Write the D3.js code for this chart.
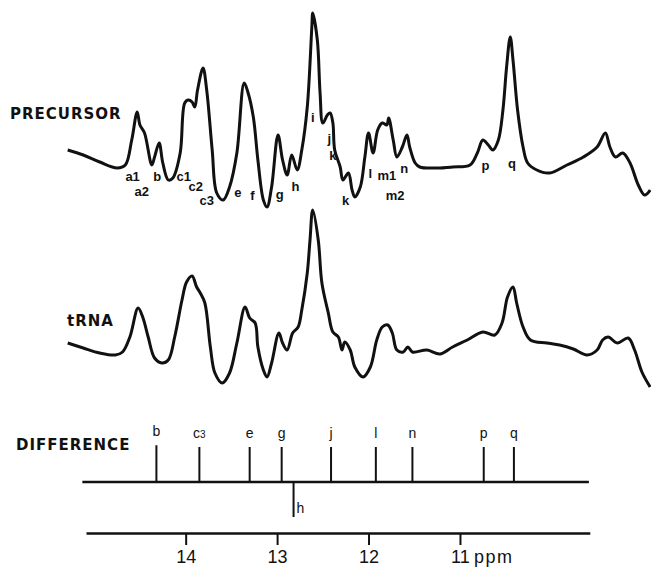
<!DOCTYPE html>
<html>
<head>
  <script src="https://cdn.jsdelivr.net/npm/d3@7"></script>
  <style>
    body { margin: 0; background: #fff; }
    text { fill: #111; }
  </style>
</head>
<body>
<script>
  // precursor spectrum: ppm and intensity (arbitrary units)
  var prePpm = [15.29, 15.12, 14.94, 14.75, 14.66, 14.59, 14.53, 14.50, 14.45, 14.37, 14.34, 14.29, 14.25, 14.19, 14.14, 14.06,
    14.01, 13.97, 13.93, 13.90, 13.87, 13.81, 13.77, 13.71, 13.66, 13.59, 13.52, 13.44, 13.36, 13.32, 13.26, 13.21,
    13.15, 13.11, 13.06, 12.99, 12.94, 12.89, 12.84, 12.78, 12.73, 12.67, 12.62, 12.61, 12.56, 12.53, 12.50, 12.45,
    12.42, 12.39, 12.37, 12.31, 12.28, 12.22, 12.18, 12.15, 12.09, 12.04, 12.00, 11.95, 11.90, 11.85, 11.80, 11.78,
    11.73, 11.69, 11.63, 11.58, 11.55, 11.49, 11.44, 11.25, 11.08, 10.89, 10.81, 10.75, 10.69, 10.64, 10.58, 10.53,
    10.49, 10.45, 10.42, 10.37, 10.31, 10.26, 10.16, 10.02, 9.83, 9.65, 9.50, 9.41, 9.36, 9.30, 9.22, 9.14, 9.05, 8.98, 8.92];
  var preInt = [60, 55, 48, 42, 45, 70, 98, 85, 77, 45, 53, 67, 47, 30, 32, 57,
    107, 110, 108, 103, 120, 142, 120, 60, 17, 10, 23, 57, 127, 118, 93, 50,
    10, 3, 23, 75, 50, 35, 55, 40, 60, 103, 183, 197, 170, 117, 87, 95,
    97, 87, 60, 43, 30, 37, 20, 13, 23, 53, 77, 57, 80, 87, 85, 92,
    70, 53, 63, 75, 63, 47, 43, 42, 43, 45, 57, 70, 65, 60, 70, 100,
    143, 173, 150, 100, 63, 47, 40, 37, 45, 53, 63, 77, 63, 53, 57, 47, 25, 15, 20];

  // tRNA spectrum
  var trnaPpm = [15.29, 15.12, 14.94, 14.77, 14.69, 14.61, 14.52, 14.47, 14.41, 14.34, 14.26, 14.19, 14.12, 14.04, 13.99, 13.93,
    13.88, 13.84, 13.79, 13.73, 13.68, 13.60, 13.52, 13.44, 13.35, 13.30, 13.24, 13.21, 13.15, 13.11, 13.06, 12.98,
    12.94, 12.89, 12.83, 12.77, 12.73, 12.67, 12.64, 12.61, 12.55, 12.51, 12.44, 12.39, 12.33, 12.29, 12.26, 12.20,
    12.15, 12.06, 11.98, 11.91, 11.85, 11.79, 11.74, 11.69, 11.62, 11.57, 11.52, 11.36, 11.22, 11.08, 10.92, 10.75,
    10.62, 10.54, 10.48, 10.42, 10.38, 10.31, 10.23, 10.05, 9.91, 9.76, 9.61, 9.50, 9.44, 9.38, 9.28, 9.16, 9.09, 9.01, 8.92];
  var trnaInt = [47, 42, 37, 35, 38, 53, 82, 73, 53, 32, 27, 30, 53, 90, 108, 114,
    103, 97, 87, 43, 17, 7, 17, 47, 83, 72, 67, 43, 20, 13, 27, 57,
    47, 40, 57, 63, 80, 117, 150, 180, 150, 107, 77, 58, 53, 40, 48, 40,
    23, 13, 23, 50, 63, 65, 57, 40, 38, 43, 38, 40, 36, 43, 50, 58,
    55, 67, 93, 103, 87, 63, 50, 47, 45, 41, 35, 40, 50, 53, 47, 52, 40, 18, 3];

  // peak labels on the precursor trace
  var preLabels = ["a1", "a2", "b", "c1", "c2", "c3", "e", "f", "g", "h", "i", "j", "k", "k", "l", "m1", "n", "m2", "p", "q"];
  var preLabelPpm = [14.58, 14.48, 14.31, 14.02, 13.89, 13.77, 13.43, 13.27, 12.97, 12.80, 12.61, 12.43, 12.39, 12.25, 11.98, 11.80, 11.61, 11.71, 10.72, 10.43];
  var preLabelInt = [29, 14, 29, 29, 19, 5, 13, 10, 11, 19, 88, 67, 50, 5, 32, 30, 37, 10, 40, 42];

  // difference spectrum sticks
  var diffLabels = ["b", "c3", "e", "g", "h", "j", "l", "n", "p", "q"];
  var diffPpm = [14.32, 13.85, 13.30, 12.95, 12.82, 12.41, 11.92, 11.52, 10.74, 10.41];
  var diffInt = [1.05, 1, 1, 1, -1, 1, 1, 1, 1, 1];

  var ppmTicks = [14, 13, 12, 11];

  var width = 651, height = 567;
  var svg = d3.select("body").append("svg")
    .attr("width", width)
    .attr("height", height);

  var x = d3.scaleLinear().domain([15.09, 9.58]).range([86, 589.8]);
  var yPre = d3.scaleLinear().domain([0, 200]).range([210, 10]);
  var yTrna = d3.scaleLinear().domain([0, 200]).range([390, 190]);
  var yDiff = d3.scaleLinear().domain([0, 1]).range([482, 447]);

  var line = function (yScale) {
    return d3.line()
      .x(function (d) { return x(d[0]); })
      .y(function (d) { return yScale(d[1]); })
      .curve(d3.curveCatmullRom.alpha(0.5));
  };

  // spectra
  svg.append("path")
    .datum(d3.zip(prePpm, preInt))
    .attr("d", line(yPre))
    .attr("fill", "none")
    .attr("stroke", "#111")
    .attr("stroke-width", 3)
    .attr("stroke-linejoin", "round");

  svg.append("path")
    .datum(d3.zip(trnaPpm, trnaInt))
    .attr("d", line(yTrna))
    .attr("fill", "none")
    .attr("stroke", "#111")
    .attr("stroke-width", 3)
    .attr("stroke-linejoin", "round");

  // names on the left
  var bigFont = "'DejaVu Sans', sans-serif";
  svg.append("text").attr("x", 10).attr("y", 119)
    .style("font-family", bigFont).style("font-weight", "bold")
    .style("font-size", "15px").style("letter-spacing", "1px")
    .text("PRECURSOR");
  svg.append("text").attr("x", 67).attr("y", 326)
    .style("font-family", bigFont).style("font-weight", "bold")
    .style("font-size", "15px").style("letter-spacing", "1px")
    .text("tRNA");
  svg.append("text").attr("x", 16).attr("y", 450)
    .style("font-family", bigFont).style("font-weight", "bold")
    .style("font-size", "15px").style("letter-spacing", "1px")
    .text("DIFFERENCE");

  // precursor peak labels
  svg.selectAll(".pre-label")
    .data(d3.zip(preLabels, preLabelPpm, preLabelInt))
    .enter().append("text")
    .attr("class", "pre-label")
    .attr("x", function (d) { return x(d[1]); })
    .attr("y", function (d) { return yPre(d[2]); })
    .attr("text-anchor", "middle")
    .style("font-family", "'Liberation Sans', Arial, sans-serif")
    .style("font-weight", "bold")
    .style("font-size", "13px")
    .text(function (d) { return d[0]; });

  // difference baseline and sticks
  svg.append("line")
    .attr("x1", x(15.13)).attr("x2", x(9.59))
    .attr("y1", yDiff(0)).attr("y2", yDiff(0))
    .attr("stroke", "#111").attr("stroke-width", 2.5);

  var sticks = d3.zip(diffLabels, diffPpm, diffInt);
  svg.selectAll(".stick")
    .data(sticks)
    .enter().append("line")
    .attr("class", "stick")
    .attr("x1", function (d) { return x(d[1]); })
    .attr("x2", function (d) { return x(d[1]); })
    .attr("y1", yDiff(0))
    .attr("y2", function (d) { return yDiff(d[2]); })
    .attr("stroke", "#111").attr("stroke-width", 2);

  var stickLabels = svg.selectAll(".stick-label")
    .data(sticks)
    .enter().append("text")
    .attr("class", "stick-label")
    .attr("x", function (d) { return d[2] < 0 ? x(d[1]) + 3 : x(d[1]); })
    .attr("y", function (d) { return d[2] < 0 ? yDiff(d[2]) - 4 : yDiff(d[2]) - 9; })
    .attr("text-anchor", function (d) { return d[2] < 0 ? "start" : "middle"; })
    .style("font-family", "'Liberation Sans', Arial, sans-serif")
    .style("font-size", "14px");
  stickLabels.each(function (d) {
    var t = d3.select(this);
    if (d[0] === "c3") {
      t.append("tspan").text("c");
      t.append("tspan").style("font-size", "10px").text("3");
    } else {
      t.text(d[0]);
    }
  });

  // ppm axis
  var axis = d3.axisBottom(x)
    .tickValues(ppmTicks)
    .tickSize(12)
    .tickSizeOuter(0)
    .tickPadding(4)
    .tickFormat(d3.format("d"));

  var gAxis = svg.append("g")
    .attr("transform", "translate(0,533)")
    .call(axis);
  gAxis.select(".domain").attr("stroke", "#111").attr("stroke-width", 2.5);
  gAxis.selectAll(".tick line").attr("stroke", "#111").attr("stroke-width", 2);
  gAxis.selectAll(".tick text")
    .attr("y", 30)
    .attr("dy", null)
    .style("font-family", "'Liberation Sans', Arial, sans-serif")
    .style("font-size", "18px")
    .style("fill", "#111");

  svg.append("text")
    .attr("x", x(11) + 14)
    .attr("y", 563)
    .style("font-family", "'Liberation Sans', Arial, sans-serif")
    .style("font-size", "18px")
    .style("letter-spacing", "1.5px")
    .text("ppm");
</script>
</body>
</html>
